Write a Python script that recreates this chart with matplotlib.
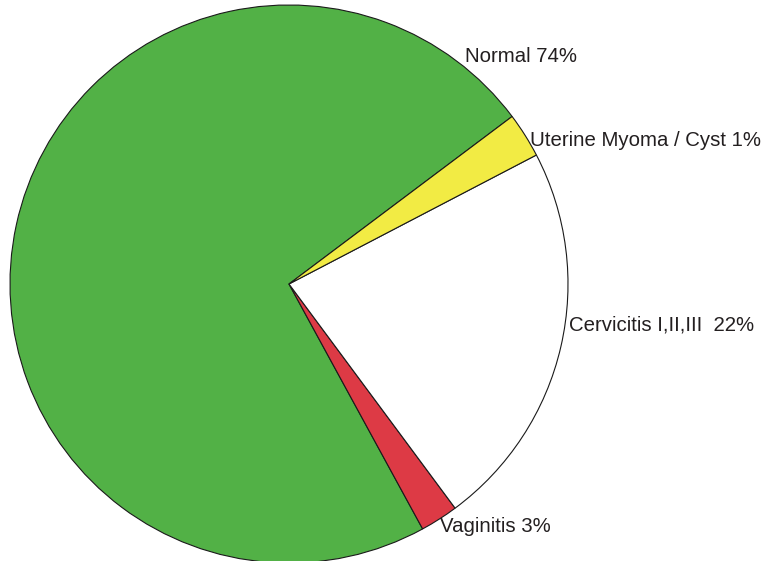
import matplotlib
matplotlib.use("Agg")
import matplotlib.pyplot as plt

# Data (slice sizes, in counter-clockwise order)
categories = ["Normal", "Vaginitis", "Cervicitis I,II,III", "Uterine Myoma / Cyst"]
values = [72.7, 2.2, 22.5, 2.6]
label_texts = ["Normal 74%", "Vaginitis 3%", "Cervicitis I,II,III  22%", "Uterine Myoma / Cyst 1%"]
colors = ["#52b146", "#dd3a45", "#ffffff", "#f2eb44"]

W, H = 764, 561
fig = plt.figure(figsize=(W / 100, H / 100), dpi=100)
plt.rcParams['font.family'] = ['Liberation Sans', 'DejaVu Sans']

# pie circle: centre (289,284) px, radius 279 px
cx, cy, r = 289, 284, 279
ax = fig.add_axes([(cx - r) / W, (H - cy - r) / H, 2 * r / W, 2 * r / H])
ax.pie(values, colors=colors, startangle=36.9, counterclock=True, radius=1.0,
       wedgeprops=dict(edgecolor="#1a1a1a", linewidth=0.8))
ax.set_xlim(-1, 1)
ax.set_ylim(-1, 1)
ax.set_aspect("equal")
ax.axis("off")

# label positions (pixel coordinates of the text's left edge / vertical centre)
label_pos = {
    "Normal 74%": (465, 57),
    "Vaginitis 3%": (440, 527),
    "Cervicitis I,II,III  22%": (569, 325),
    "Uterine Myoma / Cyst 1%": (530, 140),
}
for t in label_texts:
    x, y = label_pos[t]
    fig.text(x / W, 1 - y / H, t, ha="left", va="center", fontsize=14.7, color="#231f20")

fig.savefig("out.png", dpi=100)
